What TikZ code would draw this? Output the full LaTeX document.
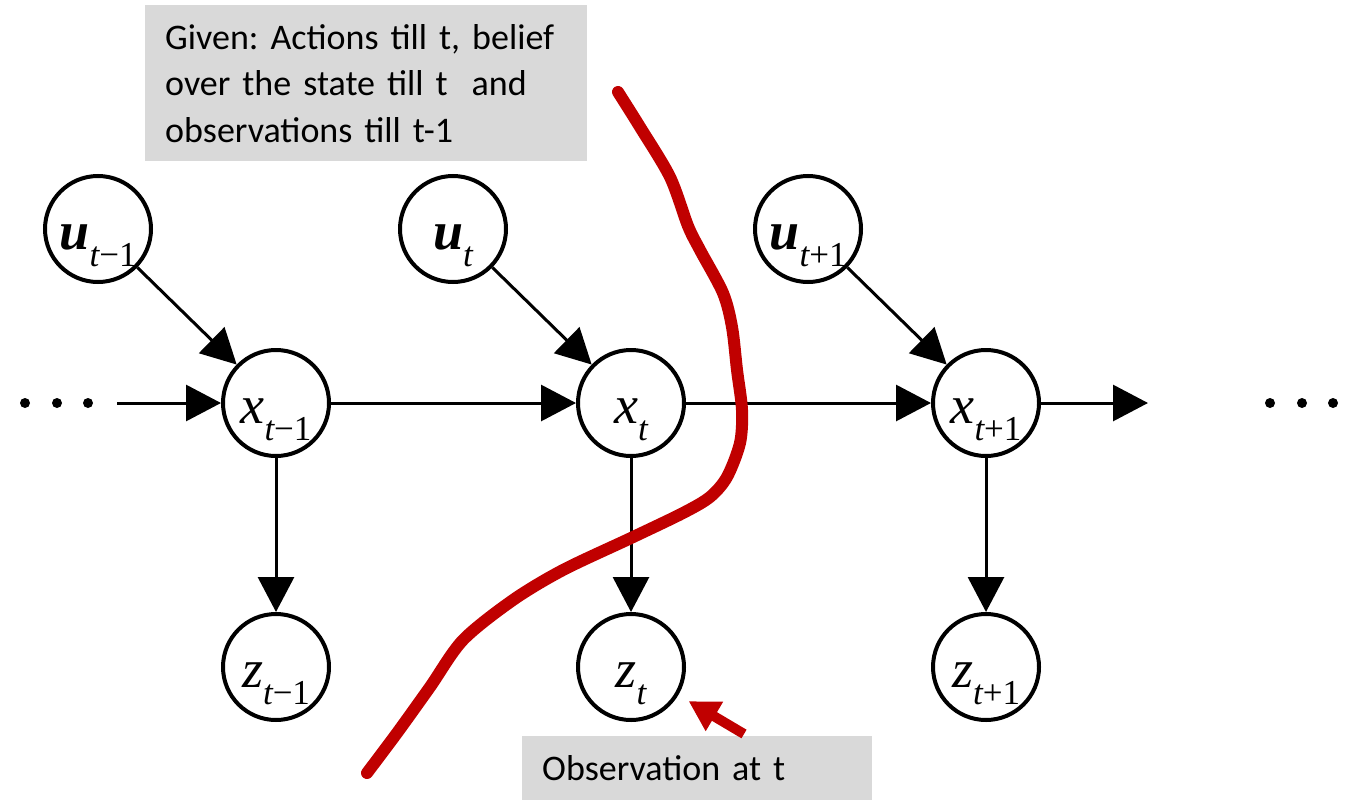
\documentclass[tikz,border=0pt]{standalone}
\usepackage{fontspec}
\setmainfont{Carlito}
\newfontfamily\tnr{Liberation Serif}
\usetikzlibrary{arrows.meta}
\definecolor{boxgray}{HTML}{D9D9D9}
\definecolor{penred}{HTML}{C00000}
\frenchspacing

% state variable: #1 letter, #2 extra series, #3 subscript after t
\newcommand\stvar[3]{%
  \smash{\raisebox{-20pt}{\tnr\fontsize{54}{54}\selectfont
  {#2\itshape #1}%
  \raisebox{-17pt}{\fontsize{35}{35}\selectfont\itshape t\upshape #3}}}}

\begin{document}
\begin{tikzpicture}[x=1pt,y=-1pt,
  state/.style={circle, draw, line width=4pt, minimum size=106pt, inner sep=0pt, fill=white},
  link/.style={line width=3pt, -{Triangle[length=35pt,width=36pt]}},
  note/.style={fill=boxgray, inner sep=0pt, anchor=north west, font=\fontsize{36}{46.5}\selectfont},
  pen/.style={penred, line width=12pt, line cap=round, line join=round},
  dot/.style={fill=black}]
\useasboundingbox (0,0) rectangle (1351,800);

% explanatory boxes
\node[note, minimum width=442pt, minimum height=156pt, text width=402pt, align=left, inner xsep=20pt]
  (given) at (145,5)
  {Given: Actions till t, belief\\over the state till t\ \ and\\observations till t-1};
\node[note, minimum width=330pt, minimum height=64pt, text width=310pt, align=left, inner xsep=20pt, inner ysep=0pt]
  (obs) at (522,736) {Observation at t};

% network nodes
\node[state] (u1) at (98,229)  {\stvar{u}{\bfseries}{−1}};
\node[state] (u2) at (453,229) {\stvar{u}{\bfseries}{}};
\node[state] (u3) at (808,229) {\stvar{u}{\bfseries}{+1}};
\node[state] (x1) at (276,403) {\stvar{x}{}{−1}};
\node[state] (x2) at (631,403) {\stvar{x}{}{}};
\node[state] (x3) at (986,403) {\stvar{x}{}{+1}};
\node[state] (z1) at (276,667) {\stvar{z}{}{−1}};
\node[state] (z2) at (631,667) {\stvar{z}{}{}};
\node[state] (z3) at (986,667) {\stvar{z}{}{+1}};

\coordinate (inL) at (117,403);
\coordinate (outR) at (1148,403);

% continuation dots
\foreach \px in {25,57,88,1270,1302,1333}
  \fill[dot] (\px,403) circle (5pt);

% connectors
\draw[link] (inL) -- (x1);
\draw[link] (x1) -- (x2);
\draw[link] (x2) -- (x3);
\draw[link] (x3) -- (outR);
\draw[link] (u1) -- (x1);
\draw[link] (u2) -- (x2);
\draw[link] (u3) -- (x3);
\draw[link] (x1) -- (z1);
\draw[link] (x2) -- (z2);
\draw[link] (x3) -- (z3);

% hand-drawn separating stroke
\draw[pen] plot[smooth, tension=0.5] coordinates {
  (618,92) (640,127) (670,177) (688,226) (700,250) (723,293) (732,327)
  (737,370) (742,410) (740,443) (727,477) (710,497) (683,513) (631,538)
  (563,570) (513,600) (463,640) (430,687) (397,733) (367,773)};

% pointer to the observation
\coordinate (obsTail) at (744,734);
\draw[penred, line width=10pt, shorten >=12pt, -{Triangle[length=30pt,width=32pt]}] (obsTail) -- (z2);
\end{tikzpicture}
\end{document}
